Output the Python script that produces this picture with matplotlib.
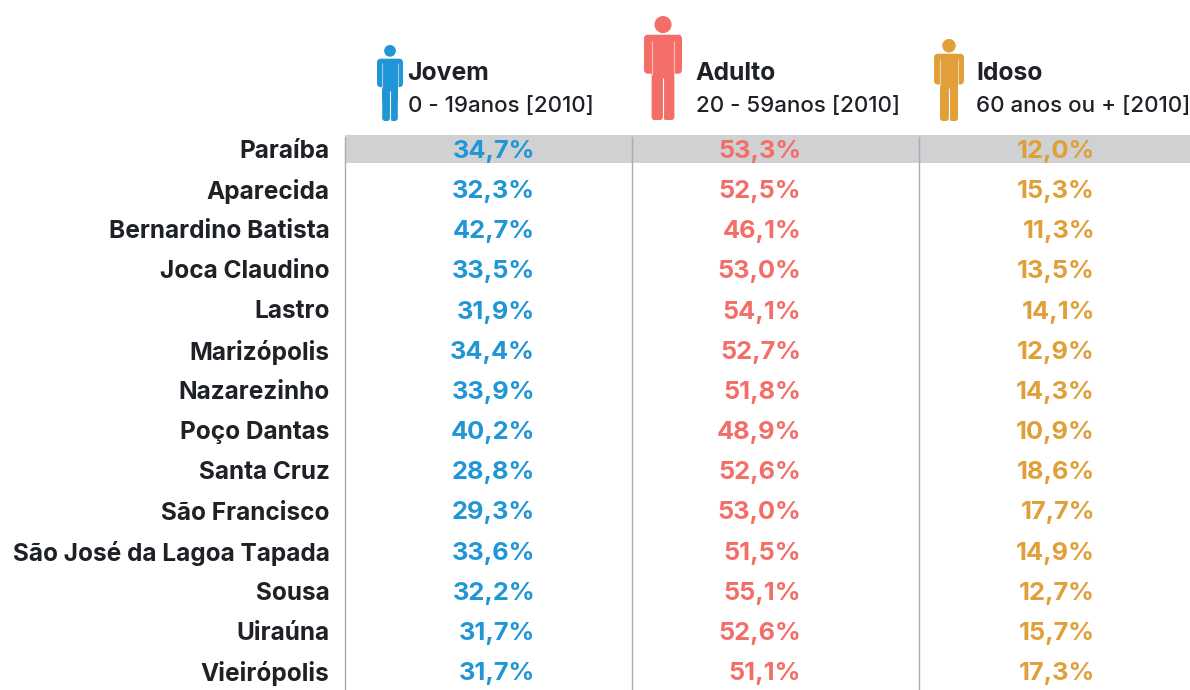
import matplotlib
matplotlib.use("Agg")
import matplotlib.pyplot as plt
from matplotlib.patches import Circle, FancyBboxPatch, Rectangle

places = ["Paraíba", "Aparecida", "Bernardino Batista", "Joca Claudino", "Lastro",
          "Marizópolis", "Nazarezinho", "Poço Dantas", "Santa Cruz", "São Francisco",
          "São José da Lagoa Tapada", "Sousa", "Uiraúna", "Vieirópolis"]
jovem = [34.7, 32.3, 42.7, 33.5, 31.9, 34.4, 33.9, 40.2, 28.8, 29.3, 33.6, 32.2, 31.7, 31.7]
adulto = [53.3, 52.5, 46.1, 53.0, 54.1, 52.7, 51.8, 48.9, 52.6, 53.0, 51.5, 55.1, 52.6, 51.1]
idoso = [12.0, 15.3, 11.3, 13.5, 14.1, 12.9, 14.3, 10.9, 18.6, 17.7, 14.9, 12.7, 15.7, 17.3]

headers = ["Jovem", "Adulto", "Idoso"]
subheaders = ["0 - 19anos [2010]", "20 - 59anos [2010]", "60 anos ou + [2010]"]
colors = ["#2196d6", "#f46e68", "#e09f38"]
series = [jovem, adulto, idoso]

FONT = "Inter"
DARK = "#1e2126"
ROW0, PITCH = 148.7, 40.2
COL_RIGHTS = [535, 801, 1095]
HEAD_X = [407.5, 695.5, 976.5]
ICONS = [(377, 45, 26, 76), (644, 16, 38, 104), (934, 39, 30, 82)]


def fmt(v):
    return f"{v:.1f}%".replace(".", ",")


def person(ax, x, y, w, h, color):
    """Draw a pictogram inside the box x, y, w, h (pixel coordinates, y down)."""
    r = w * 0.225
    ax.add_patch(Circle((x + w / 2, y + r), r, fc=color, ec="none"))
    top = y + h * 0.18
    arm_bottom = y + h * 0.555
    ax.add_patch(FancyBboxPatch((x + 2, top + 2), w - 4, arm_bottom - top - 4,
                                boxstyle="round,pad=2,rounding_size=4", fc=color, ec="none"))
    inset = w * 0.2
    ax.add_patch(Rectangle((x + inset, top + 3), w - 2 * inset, h * 0.5, fc=color, ec="none"))
    leg_w = (w - 2 * inset) / 2
    for lx in (x + inset, x + w - inset - leg_w):
        ax.add_patch(FancyBboxPatch((lx + 2, top + h * 0.3), leg_w - 4, y + h - top - h * 0.3 - 2,
                                    boxstyle="round,pad=2,rounding_size=3", fc=color, ec="none"))
    for lx in (x + inset, x + w - inset):
        ax.plot([lx, lx], [top + h * 0.06, arm_bottom + 1], color="white", lw=0.8,
                alpha=.55, solid_capstyle="butt")
    ax.plot([x + w / 2, x + w / 2], [y + h * 0.6, y + h], color="white", lw=0.8,
            solid_capstyle="butt")


fig = plt.figure(figsize=(11.9, 6.9), dpi=100)
ax = fig.add_axes([0, 0, 1, 1])
ax.set_xlim(0, 1190)
ax.set_ylim(690, 0)
ax.axis("off")

ax.add_patch(Rectangle((345, 135), 845, 28, fc="#cfd1d3", ec="none", zorder=0))
for vx in (345, 632, 919):
    ax.plot([vx, vx], [137, 690], color="#a9abae", lw=1.0, zorder=1)

for i, name in enumerate(places):
    yy = ROW0 + i * PITCH
    ax.text(329.5, yy, name, ha="right", va="center_baseline", fontsize=17.6, fontweight="bold",
            family=FONT, color=DARK)
    for values, rx, c in zip(series, COL_RIGHTS, colors):
        ax.text(rx, yy, fmt(values[i]), ha="right", va="center_baseline", fontsize=18.3,
                fontweight="bold", family=FONT, color=c)

for head, sub, hx, box, c in zip(headers, subheaders, HEAD_X, ICONS, colors):
    ax.text(hx, 71, head, ha="left", va="center_baseline", fontsize=17.8, fontweight="bold",
            family=FONT, color=DARK)
    ax.text(hx, 104, sub, ha="left", va="center_baseline", fontsize=16.1, fontweight="medium",
            family=FONT, color=DARK)
    person(ax, *box, c)

fig.savefig("out.png", dpi=100, facecolor="white")
